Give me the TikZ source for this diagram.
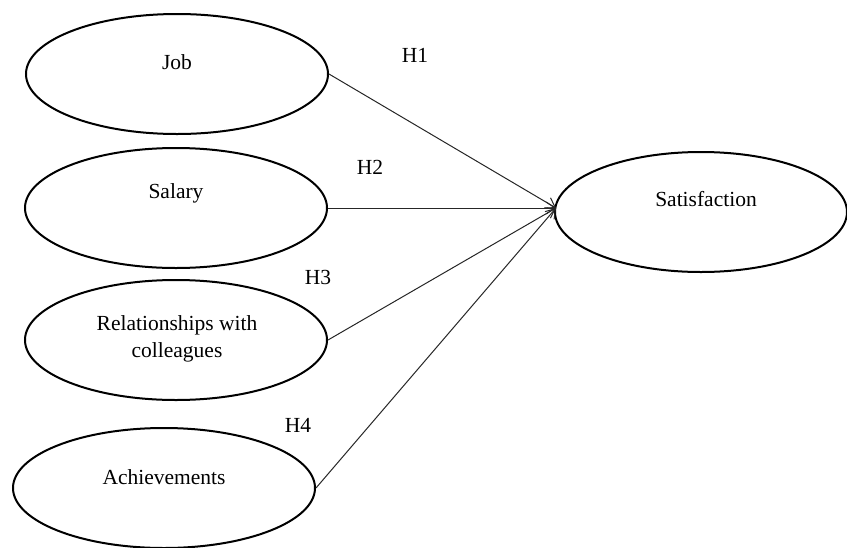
\documentclass[tikz,border=0pt]{standalone}
\usepackage{fontspec}
\setmainfont{Liberation Serif}
\usetikzlibrary{shapes.geometric,arrows.meta}
\begin{document}
\begin{tikzpicture}[x=1pt,y=-1pt,
  oval/.style={draw,line width=2pt,ellipse,minimum width=302pt,minimum height=120pt,inner sep=0pt},
  txt/.style={font=\fontsize{21.5}{27}\selectfont,align=center,inner sep=0pt},
  hyp/.style={font=\fontsize{21.5}{26}\selectfont,inner sep=0pt},
  link/.style={line width=1pt,draw=black!85,-{Straight Barb[length=9pt,width=12pt,line width=1pt]}}]
\useasboundingbox (0,0) rectangle (847,547);
\node[oval] (j) at (177,74) {};
\node[txt] (jt) at (177,62) {Job};
\node[oval] (sa) at (176,208) {};
\node[txt] (sat) at (176,193) {Salary};
\node[oval] (r) at (176,340) {};
\node[txt] (rt) at (177,339) {Relationships with\\colleagues};
\node[oval] (a) at (164,488) {};
\node[txt] (at) at (164,477) {Achievements};
\node[oval,minimum width=292pt] (s) at (701,212) {};
\node[txt] (st) at (706,199) {Satisfaction};
\coordinate (tip) at (556,208);
\draw[link] (j.east) -- (tip);
\draw[link] (sa.east) -- (tip);
\draw[link] (r.east) -- (tip);
\draw[link] (a.east) -- (tip);
\node[hyp] (h1) at (415,55) {H1};
\node[hyp] (h2) at (370,167) {H2};
\node[hyp] (h3) at (318,277) {H3};
\node[hyp] (h4) at (298,425) {H4};
\end{tikzpicture}
\end{document}
